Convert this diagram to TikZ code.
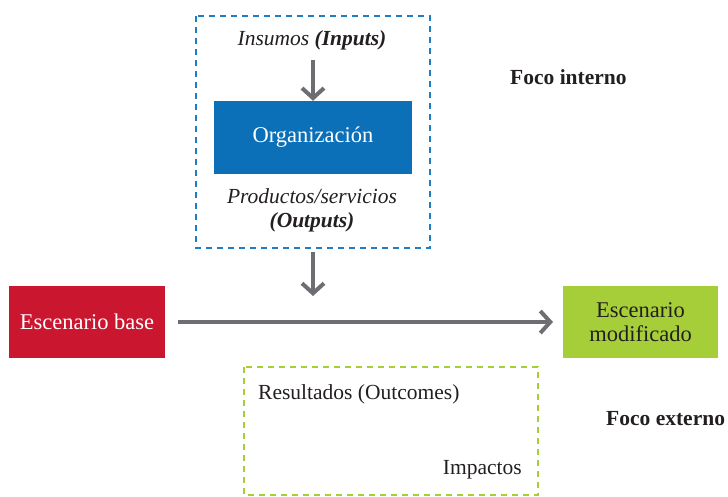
\documentclass[tikz,border=0pt]{standalone}
\usepackage{fontspec}
\setmainfont{Liberation Serif}
\usetikzlibrary{arrows.meta}
\definecolor{orgblue}{HTML}{0B70B8}
\definecolor{dashblue}{HTML}{1F7DC4}
\definecolor{basered}{HTML}{CB162F}
\definecolor{modgreen}{HTML}{A6CE39}
\definecolor{arrgray}{HTML}{6D6E71}
\definecolor{txt}{HTML}{231F20}
\tikzset{
  fillbox/.style={draw=none, inner sep=0pt, text=white, align=center, font=\fontsize{22.5}{24}\selectfont},
  dashframe/.style={line width=2.5pt, dash pattern=on 6pt off 5pt},
  flowarrow/.style={draw=arrgray, line width=4pt, -{Straight Barb[length=10pt,width=22pt]}},
  lbl/.style={text=txt, inner sep=0pt, font=\fontsize{21.5}{24}\selectfont},
  boldlbl/.style={lbl, anchor=west, font=\fontsize{21.5}{24}\selectfont\bfseries},
}
\begin{document}
\begin{tikzpicture}[x=1pt,y=-1pt]
\useasboundingbox (0,0) rectangle (728,497);
% dashed frames
\draw[dashframe, draw=dashblue] (196,16) rectangle (430,248);
\draw[dashframe, draw=modgreen] (244,367) rectangle (538,495);
% boxes
\node[fillbox, fill=orgblue, minimum width=198pt, minimum height=73pt] (org) at (313,137.5) {Organización};
\node[fillbox, fill=basered, minimum width=156pt, minimum height=72pt] (base) at (87,322) {Escenario base};
\node[fillbox, fill=modgreen, text=txt, minimum width=155pt, minimum height=72pt] (mod) at (640.5,322) {Escenario\\modificado};
% texts
\node[lbl, font=\fontsize{21.5}{24}\selectfont\itshape] (ins) at (312,40) {Insumos \textbf{(Inputs)}};
\node[lbl, align=center, font=\fontsize{21.5}{24}\selectfont\itshape] (out) at (312,210) {Productos/servicios\\\textbf{(Outputs)}};
\node[lbl, anchor=west] (res) at (258,394) {Resultados (Outcomes)};
\node[lbl, anchor=east] (imp) at (522,470) {Impactos};
\node[boldlbl] (fi) at (510,77) {Foco interno};
\node[boldlbl] (fe) at (606,419) {Foco externo};
% arrows
\coordinate (a1s) at (313,60);
\coordinate (a2s) at (313,252);
\coordinate (a2e) at (313,296);
\coordinate (hs) at (178,322);
\coordinate (he) at (553,322);
\draw[flowarrow] (a1s) -- (org.north);
\draw[flowarrow] (a2s) -- (a2e);
\draw[flowarrow] (hs) -- (he);
\end{tikzpicture}
\end{document}
